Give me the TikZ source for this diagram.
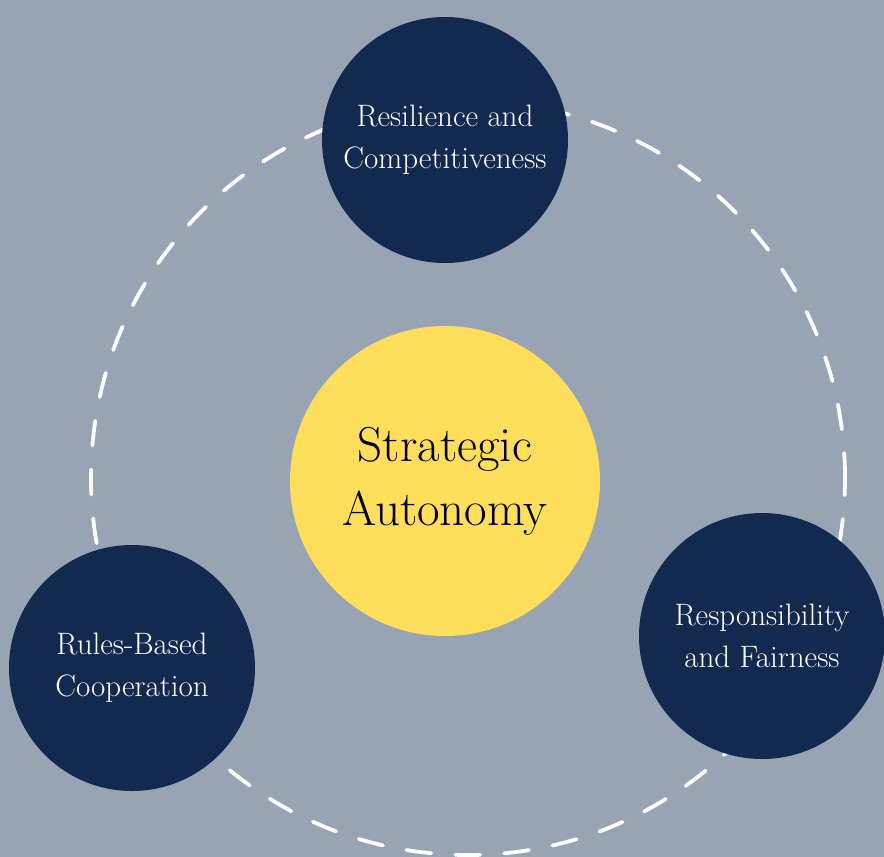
\documentclass[tikz,border=0pt]{standalone}
\usepackage{fontspec}
\setmainfont{Latin Modern Roman}
\usepackage{tikz}
\definecolor{bgc}{HTML}{98A4B4}
\definecolor{navy}{HTML}{132A50}
\definecolor{gold}{HTML}{FFDE5B}
\begin{document}
\begin{tikzpicture}[x=1pt,y=-1pt,
  pillar/.style={circle,fill=navy,minimum size=246pt,inner sep=0pt,text=white,align=center,font=\fontsize{31}{42}\selectfont},
  core/.style={circle,fill=gold,minimum size=310pt,inner sep=0pt,text=black,align=center,font=\fontsize{49}{64}\selectfont},
  ring/.style={draw=white,line width=3.8pt,line cap=round,dash pattern=on 25pt off 24pt}]
\fill[bgc] (0,0) rectangle (884,857);
\useasboundingbox (0,0) rectangle (884,857);
\coordinate (rc) at (468,478);
\draw[ring] (rc) circle[radius=377pt];
\node[core] (sa) at (445,481) {Strategic\\Autonomy};
\node[pillar] (rcomp) at (445,140) {Resilience and\\Competitiveness};
\node[pillar] (rbc) at (132,668) {Rules-Based\\Cooperation};
\node[pillar] (raf) at (762,636) {Responsibility\\and Fairness};
\end{tikzpicture}
\end{document}
